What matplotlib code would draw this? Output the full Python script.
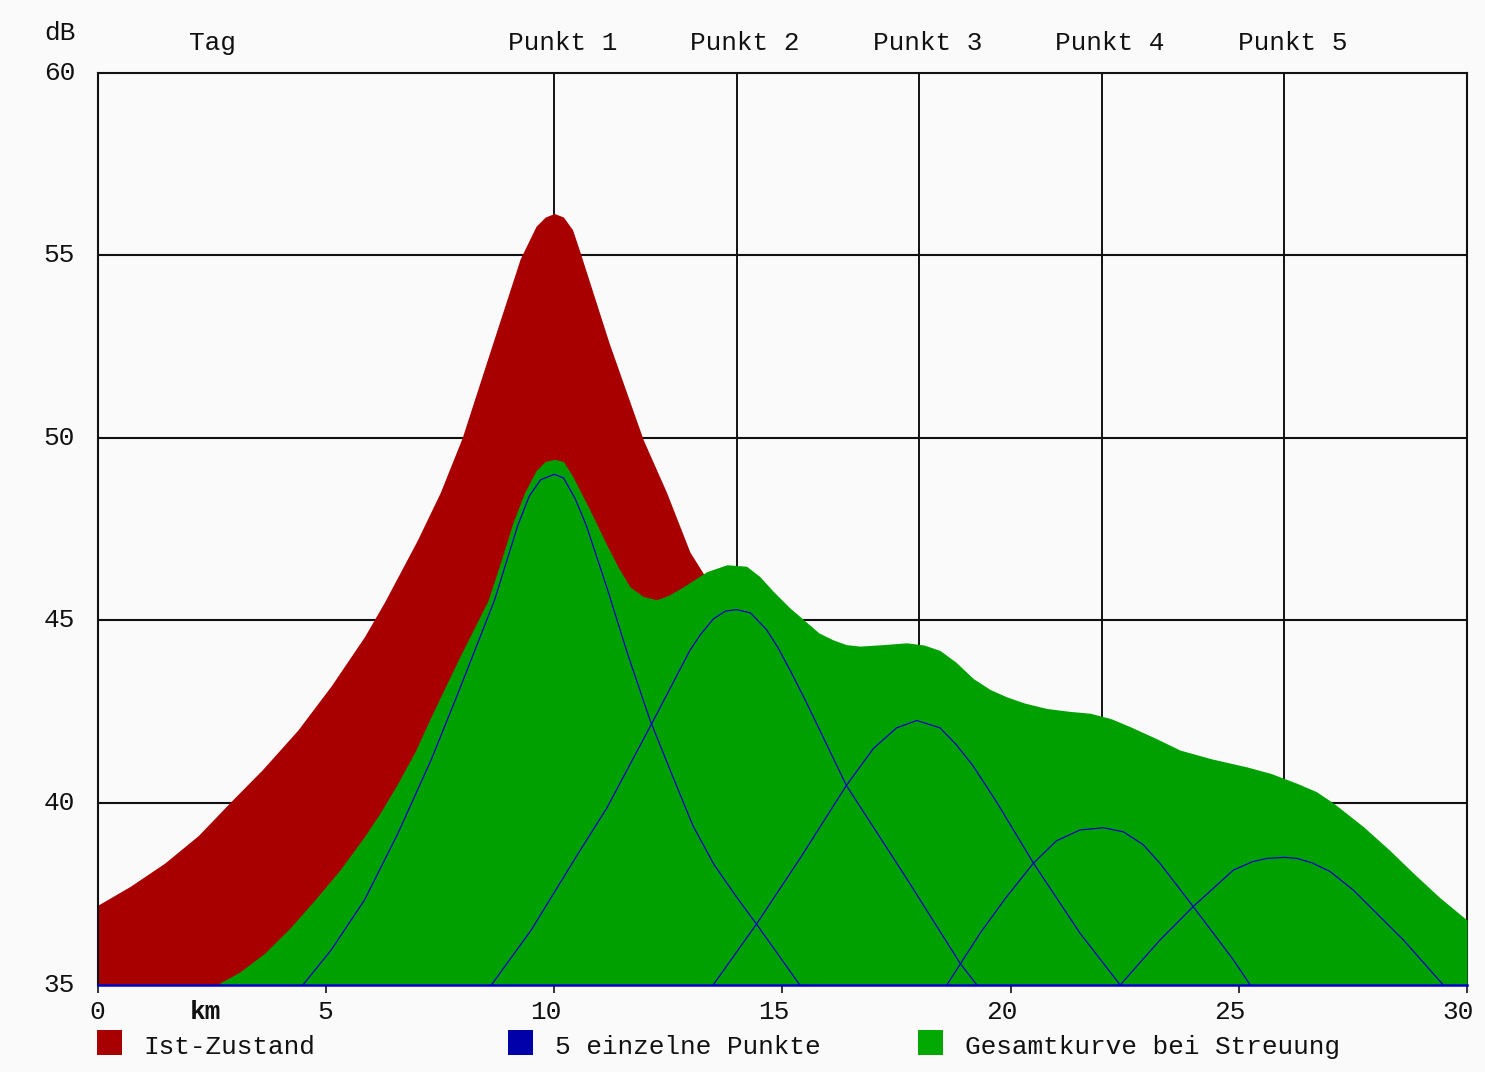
import matplotlib
matplotlib.use("Agg")
import matplotlib.pyplot as plt
import matplotlib.transforms as mtransforms
from matplotlib.patches import Rectangle

# ---------------- data ----------------
km_ticks = [0, 5, 10, 15, 20, 25, 30]
db_ticks = [35, 40, 45, 50, 55, 60]
punkt_pos = [10, 14, 18, 22, 26]
punkt_labels = ["Punkt 1", "Punkt 2", "Punkt 3", "Punkt 4", "Punkt 5"]
legend_labels = ["Ist-Zustand", "5 einzelne Punkte", "Gesamtkurve bei Streuung"]

# Ist-Zustand (red area)
red_x = [0, 0.7, 1.46, 2.2, 2.89, 3.6, 4.38, 5.11, 5.84, 6.28, 7.0, 7.5, 7.98, 8.6, 9.25,
         9.6, 9.8, 10.0, 10.2, 10.4, 10.56, 11.2, 11.95, 12.46, 12.97, 13.26, 13.8, 14.5]
red_y = [37.19, 37.7, 38.34, 39.1, 40.0, 40.9, 41.99, 43.2, 44.55, 45.5, 47.2, 48.5, 50.0, 52.4, 54.9,
         55.8, 56.05, 56.15, 56.05, 55.7, 55.1, 52.6, 49.94, 48.5, 46.87, 46.29, 45.3, 44.2]

# Gesamtkurve bei Streuung (green area)
green_x = [2.59, 3.1, 3.65, 4.2, 4.75, 5.3, 5.84, 6.2, 6.57, 6.95, 7.3, 7.89, 8.55, 8.85, 9.1,
           9.35, 9.6, 9.8, 10.0, 10.2, 10.4, 10.78, 11.15, 11.4, 11.66, 11.95, 12.24, 12.5,
           12.82, 13.34, 13.78, 14.21, 14.5, 14.79, 15.15, 15.53, 15.8, 16.11, 16.4, 16.7,
           17.2, 17.72, 18.1, 18.45, 18.8, 19.18, 19.55, 19.91, 20.3, 20.79, 21.3, 21.74,
           22.2, 22.62, 23.2, 23.71, 24.4, 25.17, 25.7, 26.27, 26.7, 27.08, 27.73, 28.3,
           28.83, 29.4, 30.0]
green_y = [35.0, 35.35, 35.87, 36.55, 37.33, 38.15, 39.07, 39.75, 40.53, 41.4, 42.36, 43.9, 45.55, 46.7, 47.7,
           48.5, 49.1, 49.35, 49.41, 49.35, 48.95, 48.02, 47.06, 46.45, 45.91, 45.65, 45.56, 45.68,
           45.91, 46.33, 46.52, 46.48, 46.2, 45.8, 45.35, 44.94, 44.65, 44.46, 44.33, 44.29,
           44.33, 44.38, 44.32, 44.17, 43.85, 43.4, 43.1, 42.9, 42.73, 42.58, 42.5, 42.45,
           42.3, 42.08, 41.75, 41.44, 41.2, 40.98, 40.8, 40.53, 40.3, 39.98, 39.34, 38.7,
           38.06, 37.4, 36.78]

# 5 einzelne Punkte (blue lines)
p1_x = [4.49, 5.11, 5.84, 6.57, 7.3, 7.89, 8.69, 8.95, 9.2, 9.45, 9.7, 10.0, 10.2, 10.45, 10.7,
        11.15, 11.6, 12.1, 12.6, 13.04, 13.5, 14.0, 14.43, 15.38]
p1_y = [35.0, 35.96, 37.33, 39.15, 41.17, 43.0, 45.55, 46.6, 47.6, 48.4, 48.85, 49.0, 48.9, 48.35, 47.6,
        45.9, 44.1, 42.25, 40.7, 39.36, 38.3, 37.4, 36.67, 35.0]
p2_x = [8.62, 9.49, 10.52, 11.15, 12.17, 12.97, 13.2, 13.48, 13.75, 14.0, 14.3, 14.65, 14.9,
        15.2, 15.53, 16.4, 17.72, 18.89, 19.26]
p2_y = [35.0, 36.5, 38.6, 39.85, 42.25, 44.17, 44.6, 45.03, 45.25, 45.29, 45.2, 44.74, 44.25,
        43.55, 42.73, 40.47, 37.92, 35.6, 35.0]
p3_x = [13.48, 14.43, 15.4, 16.4, 16.99, 17.5, 17.94, 18.45, 18.8, 19.18, 19.7, 20.5, 21.52, 22.4]
p3_y = [35.0, 36.67, 38.5, 40.47, 41.48, 42.05, 42.25, 42.05, 41.6, 41.0, 40.0, 38.34, 36.42, 35.0]
p4_x = [18.6, 19.33, 19.9, 20.5, 21.0, 21.52, 22.03, 22.47, 22.9, 23.27, 24.0, 24.88, 25.25]
p4_y = [35.0, 36.42, 37.4, 38.34, 38.95, 39.25, 39.31, 39.2, 38.85, 38.34, 37.15, 35.69, 35.0]
p5_x = [22.4, 23.27, 24.0, 24.88, 25.3, 25.61, 26.0, 26.27, 26.6, 27.0, 27.51, 28.61, 29.48]
p5_y = [35.0, 36.23, 37.15, 38.15, 38.38, 38.47, 38.5, 38.47, 38.35, 38.11, 37.6, 36.23, 35.0]

# ---------------- style ----------------
BG = "#fafafa"
RED = "#a80000"
GREEN = "#00a000"
BLUE = "#0000c8"
INK = "#111111"
FONT = ["Liberation Mono", "DejaVu Sans Mono"]
FS = 18.8

W, H = 1485, 1072
fig = plt.figure(figsize=(W / 100, H / 100), dpi=100, facecolor=BG)
ax = fig.add_axes([98 / W, (H - 985) / H, (1467 - 98) / W, (985 - 73) / H])
ax.set_facecolor(BG)
ax.set_xlim(0, 30)
ax.set_ylim(35, 60)

# grid (behind the areas)
for y in db_ticks[1:-1]:
    ax.axhline(y, color=INK, lw=1.5, zorder=1)
for p in punkt_pos:
    ax.axvline(p, color=INK, lw=1.4, zorder=1)

ax.fill_between(red_x, 35, red_y, color=RED, lw=0, zorder=2)
ax.fill_between(green_x, 35, green_y, color=GREEN, lw=0, zorder=3)
for xs, ys in [(p1_x, p1_y), (p2_x, p2_y), (p3_x, p3_y), (p4_x, p4_y), (p5_x, p5_y)]:
    ax.plot(xs, ys, color=BLUE, lw=0.9, zorder=4, solid_joinstyle="round")
ax.axhline(35, color=BLUE, lw=1.8, zorder=5, clip_on=False)

for s in ["top", "left", "right"]:
    ax.spines[s].set_color(INK)
    ax.spines[s].set_linewidth(1.5)
ax.spines["bottom"].set_visible(False)

ax.set_xticks(km_ticks)
ax.set_yticks([])
ax.tick_params(axis="x", direction="out", length=6, width=1.2, color=INK, labelbottom=False)

# x tick labels: right edge 7 px right of tick, centred 27 px below axis
xlab_tr = mtransforms.offset_copy(ax.get_xaxis_transform(), fig=fig, x=7, y=-27, units="dots")
for k in km_ticks:
    ax.text(k, 0, str(k), transform=xlab_tr, ha="right", va="center",
            fontsize=FS, family=FONT, color=INK)
ax.text(2.35, 0, "km", transform=mtransforms.offset_copy(ax.get_xaxis_transform(), fig=fig, x=0, y=-27, units="dots"),
        ha="center", va="center", fontsize=FS, family=FONT, color=INK, fontweight="bold")

# y tick labels
ylab_tr = mtransforms.offset_copy(ax.get_yaxis_transform(), fig=fig, x=-23, y=0, units="dots")
for d in db_ticks:
    ax.text(0, d, str(d), transform=ylab_tr, ha="right", va="center",
            fontsize=FS, family=FONT, color=INK)
ax.text(0, 1, "dB", transform=mtransforms.offset_copy(ax.transAxes, fig=fig, x=-23, y=40, units="dots"),
        ha="right", va="center", fontsize=FS, family=FONT, color=INK)

# top labels
top_tr = mtransforms.offset_copy(ax.get_xaxis_transform(), fig=fig, x=8, y=30, units="dots")
ax.text(2.5, 1, "Tag", transform=mtransforms.offset_copy(ax.get_xaxis_transform(), fig=fig, x=0, y=30, units="dots"),
        ha="center", va="center", fontsize=FS, family=FONT, color=INK)
for p, lab in zip(punkt_pos, punkt_labels):
    ax.text(p, 1, lab, transform=top_tr, ha="center", va="center",
            fontsize=FS, family=FONT, color=INK)

# legend
leg = [(97, RED, 143), (508, "#0000a8", 555), (918, "#00a800", 965)]
for (px, col, tx), lab in zip(leg, legend_labels):
    fig.add_artist(Rectangle((px / W, (H - 1055) / H), 25 / W, 25 / H,
                             transform=fig.transFigure, color=col, lw=0))
    fig.text(tx / W, (H - 1047) / H, lab, ha="left", va="center",
             fontsize=FS, family=FONT, color=INK)

fig.savefig("out.png", dpi=100, facecolor=BG)
